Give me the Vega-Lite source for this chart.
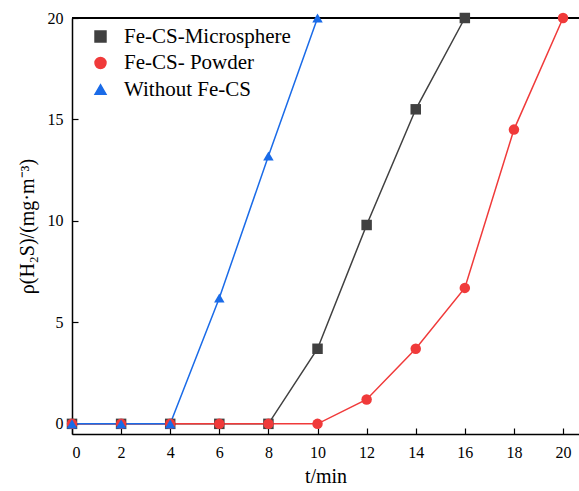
{
  "$schema": "https://vega.github.io/schema/vega-lite/v6.json",
  "width": 507,
  "height": 416,
  "autosize": {"type": "none"},
  "padding": {"left": 72, "top": 18, "right": 0, "bottom": 57},
  "background": "white",
  "config": {
    "view": {"stroke": null},
    "font": "Times New Roman, Liberation Serif, serif",
    "axis": {
      "domainColor": "#000000",
      "domainWidth": 1.5,
      "tickColor": "#000000",
      "tickWidth": 1.2,
      "grid": false,
      "labelFont": "Times New Roman, Liberation Serif, serif",
      "labelFontSize": 16,
      "labelColor": "#000000",
      "titleFont": "Times New Roman, Liberation Serif, serif",
      "titleFontSize": 20,
      "titleFontWeight": "normal",
      "titleColor": "#000000"
    },
    "legend": {"padding": 0}
  },
  "data": {
    "values": [
      {"t": 0, "v": 0, "s": "Fe-CS-Microsphere", "z": 1},
      {"t": 2, "v": 0, "s": "Fe-CS-Microsphere", "z": 1},
      {"t": 4, "v": 0, "s": "Fe-CS-Microsphere", "z": 1},
      {"t": 6, "v": 0, "s": "Fe-CS-Microsphere", "z": 1},
      {"t": 8, "v": 0, "s": "Fe-CS-Microsphere", "z": 1},
      {"t": 10, "v": 3.7, "s": "Fe-CS-Microsphere", "z": 1},
      {"t": 12, "v": 9.8, "s": "Fe-CS-Microsphere", "z": 1},
      {"t": 14, "v": 15.5, "s": "Fe-CS-Microsphere", "z": 1},
      {"t": 16, "v": 20, "s": "Fe-CS-Microsphere", "z": 1},
      {"t": 0, "v": 0, "s": "Fe-CS- Powder", "z": 2},
      {"t": 2, "v": 0, "s": "Fe-CS- Powder", "z": 2},
      {"t": 4, "v": 0, "s": "Fe-CS- Powder", "z": 2},
      {"t": 6, "v": 0, "s": "Fe-CS- Powder", "z": 2},
      {"t": 8, "v": 0, "s": "Fe-CS- Powder", "z": 2},
      {"t": 10, "v": 0, "s": "Fe-CS- Powder", "z": 2},
      {"t": 12, "v": 1.2, "s": "Fe-CS- Powder", "z": 2},
      {"t": 14, "v": 3.7, "s": "Fe-CS- Powder", "z": 2},
      {"t": 16, "v": 6.7, "s": "Fe-CS- Powder", "z": 2},
      {"t": 18, "v": 14.5, "s": "Fe-CS- Powder", "z": 2},
      {"t": 20, "v": 20, "s": "Fe-CS- Powder", "z": 2},
      {"t": 0, "v": 0, "s": "Without Fe-CS", "z": 3},
      {"t": 2, "v": 0, "s": "Without Fe-CS", "z": 3},
      {"t": 4, "v": 0, "s": "Without Fe-CS", "z": 3},
      {"t": 6, "v": 6.2, "s": "Without Fe-CS", "z": 3},
      {"t": 8, "v": 13.2, "s": "Without Fe-CS", "z": 3},
      {"t": 10, "v": 20, "s": "Without Fe-CS", "z": 3}
    ]
  },
  "layer": [
    {
      "mark": {"type": "rule", "color": "#000000", "strokeWidth": 1.5},
      "encoding": {"y": {"datum": 20, "type": "quantitative", "scale": {"domain": [-0.5, 20], "nice": false}}}
    },
    {
      "mark": {"type": "line", "strokeWidth": 1.5},
      "encoding": {
        "x": {"field": "t", "type": "quantitative"},
        "y": {"field": "v", "type": "quantitative"},
        "color": {"field": "s", "type": "nominal"},
        "order": {"field": "t"},
        "detail": {"field": "s"}
      }
    },
    {
      "mark": {"type": "point", "filled": true, "opacity": 1, "size": 110},
      "encoding": {
        "x": {
          "field": "t", "type": "quantitative",
          "scale": {"domain": [0, 20.65], "nice": false, "zero": false},
          "axis": {"values": [0, 2, 4, 6, 8, 10, 12, 14, 16, 18, 20], "tickSize": -6, "labelPadding": 16, "title": "t/min", "titlePadding": 6}
        },
        "y": {
          "field": "v", "type": "quantitative",
          "scale": {"domain": [-0.5, 20], "nice": false, "zero": false},
          "axis": {"values": [0, 5, 10, 15, 20], "tickSize": -6, "labelPadding": 15, "title": "ρ(H₂S)/(mg·m⁻³)", "titlePadding": 10}
        },
        "order": {"field": "z", "type": "quantitative"},
        "color": {
          "field": "s", "type": "nominal",
          "scale": {"domain": ["Fe-CS-Microsphere", "Fe-CS- Powder", "Without Fe-CS"], "range": ["#404040", "#f03a3a", "#1a6be8"]},
          "legend": {
            "orient": "none", "legendX": 18, "legendY": 8, "title": null,
            "labelFont": "Times New Roman, Liberation Serif, serif", "labelFontSize": 21, "labelColor": "#000000",
            "labelLimit": 400,
            "symbolSize": 120, "symbolStrokeWidth": 1.5, "rowPadding": 4.5, "labelOffset": 13,
            "symbolOpacity": 1
          }
        },
        "shape": {
          "field": "s", "type": "nominal",
          "scale": {"domain": ["Fe-CS-Microsphere", "Fe-CS- Powder", "Without Fe-CS"], "range": ["square", "circle", "triangle-up"]}
        }
      }
    }
  ]
}
